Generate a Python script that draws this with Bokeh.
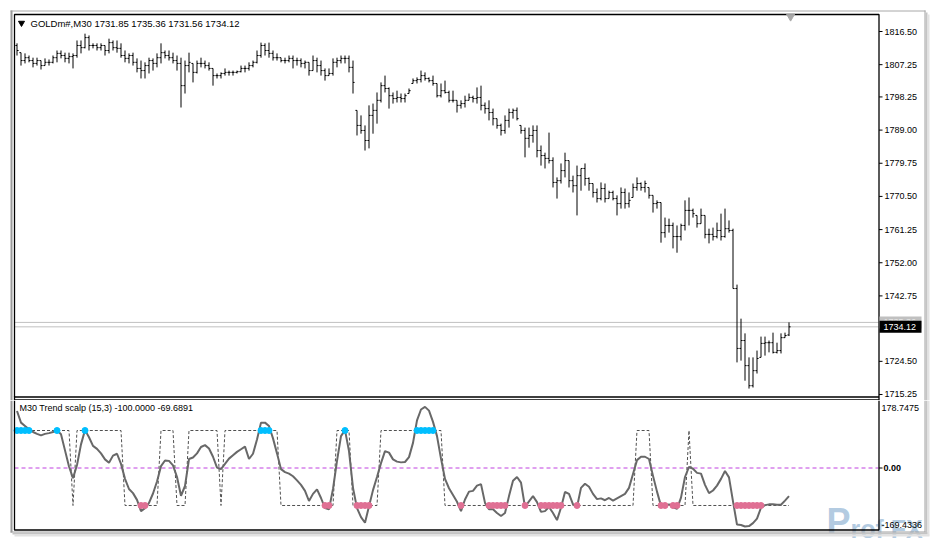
import numpy as np
from bokeh.plotting import figure
from bokeh.layouts import column
from bokeh.models import Range1d
from bokeh.core.properties import value
from bokeh.embed import file_html
from bokeh.resources import INLINE

FONT = "Liberation Sans"

symbol = "GOLDm#,M30"
ind_title = "M30 Trend scalp (15,3) -100.0000 -69.6891"
price_ticks = [1816.50, 1807.25, 1798.25, 1789.00, 1779.75, 1770.50, 1761.25,
               1752.00, 1742.75, 1724.50, 1715.25]
ind_max = 178.7475
ind_min = -169.4336
ind_zero = 0.0
ask_price = 1735.36

high = [1813.2, 1810.6, 1810.4, 1809.8, 1809.2, 1809.2, 1808.4, 1809.0, 1808.7, 1809.8,
        1811.2, 1811.2, 1810.6, 1810.6, 1810.4, 1814.0, 1814.0, 1815.9, 1815.4, 1813.2,
        1813.2, 1813.2, 1812.6, 1814.5, 1814.0, 1814.0, 1813.2, 1811.2, 1810.4, 1810.6,
        1809.0, 1808.4, 1807.9, 1809.2, 1809.0, 1810.4, 1813.2, 1811.2, 1811.2, 1810.6,
        1809.8, 1809.2, 1808.4, 1810.6, 1807.6, 1808.4, 1809.2, 1808.4, 1807.9, 1806.2,
        1804.8, 1805.1, 1806.2, 1805.6, 1805.6, 1805.6, 1807.0, 1807.0, 1807.9, 1808.4,
        1811.2, 1813.4, 1813.2, 1813.4, 1811.2, 1810.4, 1809.2, 1809.2, 1809.8, 1809.8,
        1809.2, 1809.0, 1808.4, 1807.9, 1809.8, 1809.2, 1808.4, 1806.2, 1806.2, 1809.0,
        1809.2, 1809.8, 1809.8, 1809.8, 1808.4, 1794.5, 1793.1, 1790.3, 1795.9, 1796.4,
        1799.5, 1802.3, 1804.2, 1800.9, 1799.5, 1800.0, 1799.2, 1799.2, 1800.6, 1803.4,
        1803.7, 1805.6, 1805.1, 1803.7, 1804.2, 1802.0, 1802.0, 1802.8, 1800.0, 1800.0,
        1797.3, 1797.3, 1798.6, 1799.2, 1798.6, 1800.9, 1801.4, 1796.7, 1797.3, 1795.0,
        1792.2, 1790.8, 1793.1, 1795.0, 1795.0, 1795.3, 1790.3, 1789.7, 1789.7, 1790.3,
        1790.3, 1784.7, 1782.7, 1788.3, 1781.4, 1775.8, 1779.7, 1782.7, 1780.5, 1776.3,
        1779.1, 1778.3, 1779.7, 1775.8, 1774.1, 1772.7, 1774.4, 1774.1, 1772.1, 1772.1,
        1770.8, 1773.0, 1772.7, 1771.6, 1774.1, 1775.8, 1774.4, 1774.9, 1773.0, 1770.8,
        1769.4, 1768.8, 1764.6, 1764.3, 1763.2, 1762.4, 1762.9, 1769.4, 1770.2, 1767.1,
        1765.2, 1767.1, 1765.2, 1761.5, 1761.8, 1763.2, 1765.7, 1767.1, 1763.8, 1761.5,
        1745.9, 1736.4, 1732.3, 1725.6, 1725.6, 1727.5, 1731.4, 1731.4, 1730.3, 1732.5,
        1729.7, 1732.3, 1732.5, 1735.36]

low = [1809.8, 1807.0, 1807.6, 1807.9, 1806.5, 1807.0, 1805.9, 1807.0, 1807.0, 1807.6,
       1807.9, 1809.0, 1807.9, 1807.6, 1806.2, 1809.2, 1810.4, 1811.8, 1811.2, 1811.8,
       1811.2, 1811.2, 1809.8, 1810.4, 1811.2, 1810.6, 1809.2, 1807.9, 1807.6, 1807.0,
       1805.1, 1803.4, 1803.4, 1804.8, 1805.6, 1806.5, 1807.6, 1809.0, 1808.4, 1807.6,
       1805.6, 1795.3, 1799.2, 1805.1, 1802.3, 1804.8, 1806.5, 1806.2, 1805.6, 1801.4,
       1803.4, 1803.4, 1804.2, 1804.2, 1804.2, 1804.8, 1805.1, 1805.1, 1805.6, 1806.5,
       1807.6, 1809.2, 1809.8, 1809.2, 1808.4, 1808.4, 1807.9, 1807.6, 1807.9, 1806.2,
       1807.0, 1806.5, 1806.2, 1804.2, 1805.6, 1805.1, 1804.2, 1802.8, 1804.2, 1804.2,
       1806.5, 1807.6, 1807.6, 1805.1, 1799.2, 1787.5, 1788.0, 1783.3, 1783.9, 1788.0,
       1790.8, 1796.7, 1799.5, 1795.0, 1796.4, 1796.7, 1796.7, 1796.7, 1799.2, 1802.0,
       1802.0, 1802.3, 1802.8, 1802.3, 1801.4, 1798.1, 1798.1, 1799.2, 1796.7, 1796.7,
       1793.9, 1795.0, 1795.3, 1797.3, 1796.7, 1796.4, 1794.5, 1793.6, 1791.7, 1790.3,
       1789.4, 1787.5, 1788.0, 1789.7, 1792.2, 1791.7, 1788.0, 1781.4, 1784.1, 1785.5,
       1781.4, 1779.1, 1778.3, 1779.7, 1773.0, 1769.9, 1774.1, 1775.8, 1773.0, 1771.6,
       1765.2, 1772.1, 1773.5, 1772.1, 1770.2, 1768.8, 1769.4, 1768.8, 1769.9, 1769.4,
       1765.2, 1767.1, 1767.1, 1767.4, 1770.2, 1772.1, 1772.1, 1771.6, 1769.9, 1766.0,
       1767.1, 1757.6, 1759.0, 1760.4, 1756.0, 1754.8, 1758.2, 1761.0, 1762.4, 1764.6,
       1761.8, 1762.9, 1758.8, 1757.4, 1758.2, 1758.8, 1758.2, 1759.0, 1760.4, 1744.8,
       1724.2, 1724.7, 1719.1, 1716.9, 1717.2, 1721.1, 1725.6, 1726.1, 1727.0, 1726.7,
       1726.7, 1726.7, 1731.1, 1731.56]

open_ = [1812.6, 1810.6, 1808.4, 1809.2, 1808.4, 1807.6, 1808.4, 1807.0, 1807.9, 1807.9,
         1809.2, 1810.4, 1809.8, 1809.0, 1809.5, 1809.8, 1812.6, 1812.0, 1814.8, 1812.6,
         1812.6, 1812.0, 1812.6, 1811.2, 1813.4, 1812.0, 1811.8, 1809.8, 1809.0, 1809.8,
         1807.9, 1806.2, 1805.6, 1807.0, 1808.4, 1807.6, 1809.2, 1810.6, 1809.8, 1809.2,
         1808.4, 1807.6, 1801.4, 1807.0, 1807.6, 1805.1, 1807.6, 1807.6, 1807.0, 1806.2,
         1804.2, 1804.2, 1804.8, 1805.1, 1805.1, 1805.1, 1805.3, 1806.2, 1806.2, 1807.0,
         1807.9, 1809.8, 1812.6, 1811.2, 1810.4, 1809.2, 1809.2, 1808.4, 1808.4, 1809.0,
         1808.4, 1808.4, 1807.6, 1807.9, 1805.6, 1808.4, 1807.0, 1805.6, 1804.2, 1804.8,
         1807.9, 1808.4, 1809.0, 1809.0, 1806.5, 1794.5, 1790.3, 1788.9, 1786.1, 1793.1,
         1794.5, 1797.3, 1801.4, 1800.6, 1798.6, 1797.8, 1798.1, 1797.8, 1799.2, 1802.0,
         1802.8, 1803.1, 1804.2, 1803.4, 1802.8, 1802.0, 1798.6, 1800.0, 1799.5, 1797.3,
         1797.3, 1795.9, 1796.4, 1797.3, 1798.1, 1797.8, 1798.1, 1795.9, 1795.0, 1793.9,
         1792.2, 1790.3, 1788.9, 1791.7, 1793.9, 1794.5, 1790.3, 1788.9, 1786.7, 1787.5,
         1788.9, 1783.3, 1781.9, 1781.1, 1780.5, 1774.4, 1774.9, 1777.7, 1780.5, 1774.9,
         1773.5, 1776.3, 1778.3, 1775.5, 1774.1, 1771.6, 1769.9, 1772.7, 1769.9, 1771.6,
         1769.9, 1768.5, 1771.6, 1768.5, 1770.2, 1773.0, 1774.1, 1773.0, 1773.0, 1770.8,
         1768.5, 1768.8, 1760.4, 1762.4, 1762.4, 1759.3, 1759.3, 1762.4, 1766.6, 1766.6,
         1765.2, 1762.9, 1765.2, 1759.9, 1759.9, 1759.3, 1761.0, 1759.3, 1761.5, 1761.0,
         1744.8, 1728.1, 1730.3, 1723.3, 1717.7, 1721.9, 1725.6, 1729.5, 1729.7, 1729.7,
         1727.0, 1727.5, 1731.1, 1731.85]

close = [1811.2, 1808.4, 1809.2, 1808.4, 1807.6, 1808.4, 1807.0, 1807.9, 1807.9, 1809.2,
         1810.4, 1809.8, 1809.0, 1809.5, 1809.8, 1812.6, 1812.0, 1814.8, 1812.6, 1812.6,
         1812.0, 1812.6, 1811.2, 1813.4, 1812.0, 1811.8, 1809.8, 1809.0, 1809.8, 1807.9,
         1806.2, 1805.6, 1807.0, 1808.4, 1807.6, 1809.2, 1810.6, 1809.8, 1809.2, 1808.4,
         1807.6, 1801.4, 1807.0, 1807.9, 1805.1, 1807.6, 1807.6, 1807.0, 1806.2, 1804.2,
         1804.2, 1804.8, 1805.1, 1805.1, 1805.1, 1805.3, 1806.2, 1806.2, 1807.0, 1807.9,
         1809.8, 1812.6, 1811.2, 1810.4, 1809.2, 1809.2, 1808.4, 1808.4, 1809.0, 1808.4,
         1808.4, 1807.6, 1807.9, 1805.6, 1808.4, 1807.0, 1805.6, 1804.2, 1804.8, 1807.9,
         1808.4, 1809.0, 1809.0, 1806.5, 1802.3, 1790.3, 1788.9, 1786.1, 1793.1, 1794.5,
         1797.3, 1801.4, 1800.6, 1798.6, 1797.8, 1798.1, 1797.8, 1798.6, 1800.0, 1802.8,
         1803.1, 1804.2, 1803.4, 1802.8, 1802.0, 1798.6, 1800.0, 1799.5, 1797.3, 1797.3,
         1795.9, 1796.4, 1797.3, 1798.1, 1797.8, 1798.1, 1795.9, 1795.0, 1793.9, 1792.2,
         1790.3, 1788.9, 1791.7, 1793.9, 1794.5, 1792.2, 1788.9, 1786.7, 1787.5, 1788.9,
         1783.3, 1781.9, 1781.1, 1780.5, 1774.4, 1774.9, 1777.7, 1780.5, 1774.9, 1773.5,
         1776.3, 1778.3, 1775.5, 1774.1, 1771.6, 1769.9, 1772.7, 1769.9, 1771.6, 1769.9,
         1768.5, 1771.6, 1768.5, 1769.4, 1773.0, 1774.1, 1773.0, 1774.1, 1770.8, 1768.5,
         1768.8, 1760.4, 1762.4, 1762.4, 1759.3, 1759.3, 1762.4, 1766.6, 1766.6, 1765.7,
         1762.9, 1765.2, 1759.9, 1759.9, 1759.3, 1761.0, 1759.3, 1761.5, 1761.0, 1744.8,
         1728.1, 1730.3, 1723.3, 1717.7, 1721.9, 1725.3, 1729.5, 1729.7, 1729.7, 1727.0,
         1727.5, 1731.1, 1731.7, 1734.12]

osc = [152, 121, 112, 103, 96, 91, 87, 91, 93, 96,
       101, 90, 47, 4, -27, 8, 63, 101, 82, 59,
       51, 39, 23, 14, 33, 38, 11, -29, -56, -67,
       -85, -115, -107, -93, -68, -36, 5, 20, 19, 7,
       -24, -74, -48, 24, 28, 39, 56, 61, 52, 30,
       1, -3, 11, 25, 34, 43, 50, 57, 24, 38,
       76, 121, 121, 112, 79, 39, -3, -11, -15, -22,
       -33, -45, -61, -88, -69, -57, -80, -107, -110, -56,
       19, 85, 101, 45, -53, -107, -131, -146, -102, -59,
       -24, 13, 45, 41, 23, 17, 15, 16, 29, 67,
       127, 156, 163, 153, 123, 85, 25, -29, -54, -72,
       -90, -115, -84, -63, -61, -47, -43, -93, -110, -110,
       -120, -128, -120, -75, -34, -24, -39, -104, -89, -75,
       -91, -117, -115, -104, -120, -139, -106, -64, -69, -97,
       -104, -53, -42, -50, -69, -83, -81, -86, -80, -87,
       -81, -75, -69, -53, -16, 21, 30, 30, 24, -21,
       -63, -101, -101, -97, -104, -109, -79, -24, 3, -2,
       -13, -15, -45, -67, -60, -47, -29, -8, -25, -89,
       -151, -152, -156, -155, -147, -135, -106, -99, -97, -97,
       -98, -98, -87, -75]

# trend signal (+100 / -100) as runs of (level, number of bars)
signal_runs = [(100, 14), (-100, 1), (100, 12), (-100, 9), (100, 4), (-100, 3),
               (100, 8), (-100, 1), (100, 14), (-100, 14), (100, 4), (-100, 7),
               (100, 16), (-100, 48), (100, 4), (-100, 9), (100, 1), (-100, 25)]

up_dots = [0, 1, 2, 3, 10, 17, 61, 62, 63, 82, 100, 101, 102, 103, 104]
down_dots = [31, 32, 77, 78, 85, 86, 87, 88, 111, 118, 119, 120, 121, 122, 127,
             131, 132, 133, 134, 135, 136, 140, 161, 162, 164, 165,
             180, 181, 182, 183, 184, 185, 186]

signal = []
for lvl, cnt in signal_runs:
    signal += [lvl] * cnt

n = len(close)
idx = np.arange(n)

# ---------------- screen calibration (page pixels) ----------------
W = 936
H1 = 400           # price pane canvas height
H2 = 141           # indicator pane canvas height
BAR_PX = 4.0
BAR0_PX = 16.5
P_PER_PX = 0.27894          # price units per pixel
P_AT_TOP = 1825.15          # price at page y = 0
I_PER_PX = 2.667            # indicator units per pixel
I_ZERO_PY = 467.5           # page y of indicator zero


def X(px):
    return (px - BAR0_PX) / BAR_PX


def Y1(py):
    return P_AT_TOP - P_PER_PX * py


def Y2(py):
    return I_PER_PX * (I_ZERO_PY - py)


XR = Range1d(X(0), X(W))


def make_fig(h, yr):
    p = figure(width=W, height=h, x_range=XR, y_range=yr,
               output_backend="svg", toolbar_location=None,
               x_axis_location=None, y_axis_location=None,
               min_border=0, min_border_left=0, min_border_right=0,
               min_border_top=0, min_border_bottom=0)
    p.xgrid.visible = False
    p.ygrid.visible = False
    p.outline_line_color = None
    p.background_fill_color = "white"
    p.border_fill_color = "white"
    return p


def txt(p, x, y, s, color="black", size="9px", style="normal", align="left"):
    p.text(x=[x], y=[y], text=[s], text_font=value(FONT), text_font_size=size,
           text_color=color, text_baseline="middle", text_align=align,
           text_font_style=style)


def hline(p, Y, x0, x1, py, color, width=1.0, dash="solid"):
    p.line([X(x0), X(x1)], [Y(py), Y(py)], line_color=color, line_width=width,
           line_dash=dash)


def vline(p, Y, px, y0, y1, color, width=1.0):
    p.line([X(px), X(px)], [Y(y0), Y(y1)], line_color=color, line_width=width)


# ================= price pane =================
p1 = make_fig(H1, Range1d(Y1(H1), Y1(0)))

# window frame (grey) with shadow
hline(p1, Y1, 10, 925, 10.5, "#A8A8A8")
vline(p1, Y1, 11.0, 10, H1, "#9A9A9A", 2)
vline(p1, Y1, 924.5, 10, H1, "#A0A0A0")
vline(p1, Y1, 926.0, 12, H1, "#C4C4C4", 2)
vline(p1, Y1, 928.0, 14, H1, "#E2E2E2", 2)

# bid / ask lines
p1.line([X(14), X(878)], [ask_price, ask_price], line_color="#C0C0C0", line_width=1)
p1.line([X(14), X(878)], [close[-1], close[-1]], line_color="#C0C0C0", line_width=1)

# OHLC bars
p1.segment(x0=idx, y0=low, x1=idx, y1=high, line_color="black", line_width=1)
p1.segment(x0=idx - 0.4, y0=open_, x1=idx, y1=open_, line_color="black", line_width=1)
p1.segment(x0=idx, y0=close, x1=idx + 0.4, y1=close, line_color="black", line_width=1)

# pane borders + axis line
p1.line([X(878.5), X(14.0), X(14.0), X(878.5), X(878.5)],
        [Y1(396.5), Y1(396.5), Y1(14.0), Y1(14.0), Y1(H1)],
        line_color="black", line_width=1.3)
vline(p1, Y1, 14.0, 396, H1, "black", 1.3)
hline(p1, Y1, 14.0, 878.5, 399.5, "black", 1.3)

# price scale
p1.segment(x0=[X(878.5)] * len(price_ticks), y0=price_ticks,
           x1=[X(882)] * len(price_ticks), y1=price_ticks, line_color="black", line_width=1)
p1.text(x=[X(884)] * len(price_ticks), y=price_ticks,
        text=[f"{t:.2f}" for t in price_ticks], text_font=value(FONT),
        text_font_size="9px", text_color="black", text_baseline="middle")

# ask / bid price labels
half = 6 * P_PER_PX
p1.quad(left=[X(879)], right=[X(921)], top=[ask_price + half], bottom=[ask_price - half],
        fill_color="#C0C0C0", line_color=None)
txt(p1, X(883), ask_price, f"{ask_price:.2f}", color="#E6E6E6")
p1.quad(left=[X(879)], right=[X(921)], top=[close[-1] + half], bottom=[close[-1] - half],
        fill_color="black", line_color=None)
txt(p1, X(883), close[-1], f"{close[-1]:.2f}", color="white")

# title
title_text = f"{symbol}  {open_[-1]:.2f} {high[-1]:.2f} {low[-1]:.2f} {close[-1]:.2f}"
p1.scatter(x=[X(21)], y=[Y1(22.5)], marker="inverted_triangle", size=6,
           fill_color="black", line_color="black")
txt(p1, X(30), Y1(22.5), title_text, size="9.5px")

# chart-shift marker
p1.scatter(x=[n - 0.6], y=[Y1(16.0)], marker="inverted_triangle", size=8,
           fill_color="#A8A8A8", line_color="#A8A8A8")

# ================= indicator pane =================
p2 = make_fig(H2, Range1d(Y2(H1 + H2), Y2(H1)))

# watermark (drawn first so that the scale text stays on top)
p2.text(x=[X(826)], y=[Y2(521)], text=["P"], text_font=value(FONT),
        text_font_size="36px", text_font_style="bold", text_color="#7FA9CD",
        text_alpha=0.6, text_baseline="alphabetic")
p2.text(x=[X(850)], y=[Y2(528)], text=["rof FX"], text_font=value(FONT),
        text_font_size="25px", text_font_style="bold", text_color="#7FA9CD",
        text_alpha=0.6, text_baseline="alphabetic")

vline(p2, Y2, 11.0, H1, 532, "#9A9A9A", 2)
vline(p2, Y2, 924.5, H1, 532, "#A0A0A0")
vline(p2, Y2, 926.0, H1, 533, "#C4C4C4", 2)
vline(p2, Y2, 928.0, H1, 535, "#E2E2E2", 2)
hline(p2, Y2, 10, 925, 531.5, "#A0A0A0")
hline(p2, Y2, 12, 927, 533.0, "#C4C4C4", 2)
hline(p2, Y2, 14, 929, 535.0, "#E2E2E2", 2)

# zero level
p2.line([X(14), X(878)], [ind_zero, ind_zero], line_color="#C040E0", line_width=1,
        line_dash="4 3")

p2.line(idx, signal, line_color="#505050", line_width=1, line_dash="3 2")
p2.line(idx, osc, line_color="#686868", line_width=2)
p2.scatter(x=up_dots, y=[100] * len(up_dots), size=6, fill_color="#00BFFF",
           line_color="#00BFFF")
p2.scatter(x=down_dots, y=[-100] * len(down_dots), size=6, fill_color="#E07094",
           line_color="#E07094")

p2.line([X(14.0), X(14.0), X(878.5), X(878.5)],
        [Y2(H1), Y2(529.5), Y2(529.5), Y2(H1)],
        line_color="black", line_width=1.3)
p2.segment(x0=[X(878.5)], y0=[ind_zero], x1=[X(882)], y1=[ind_zero],
           line_color="black", line_width=1)

txt(p2, X(19), Y2(407.5), ind_title)
txt(p2, X(881), Y2(407.5), f"{ind_max:.4f}")
txt(p2, X(883), ind_zero, f"{ind_zero:.2f}", style="bold")
txt(p2, X(881), Y2(524), f"{ind_min:.4f}")

layout = column(p1, p2, spacing=0)
open("out.html", "w").write(file_html(layout, INLINE))
